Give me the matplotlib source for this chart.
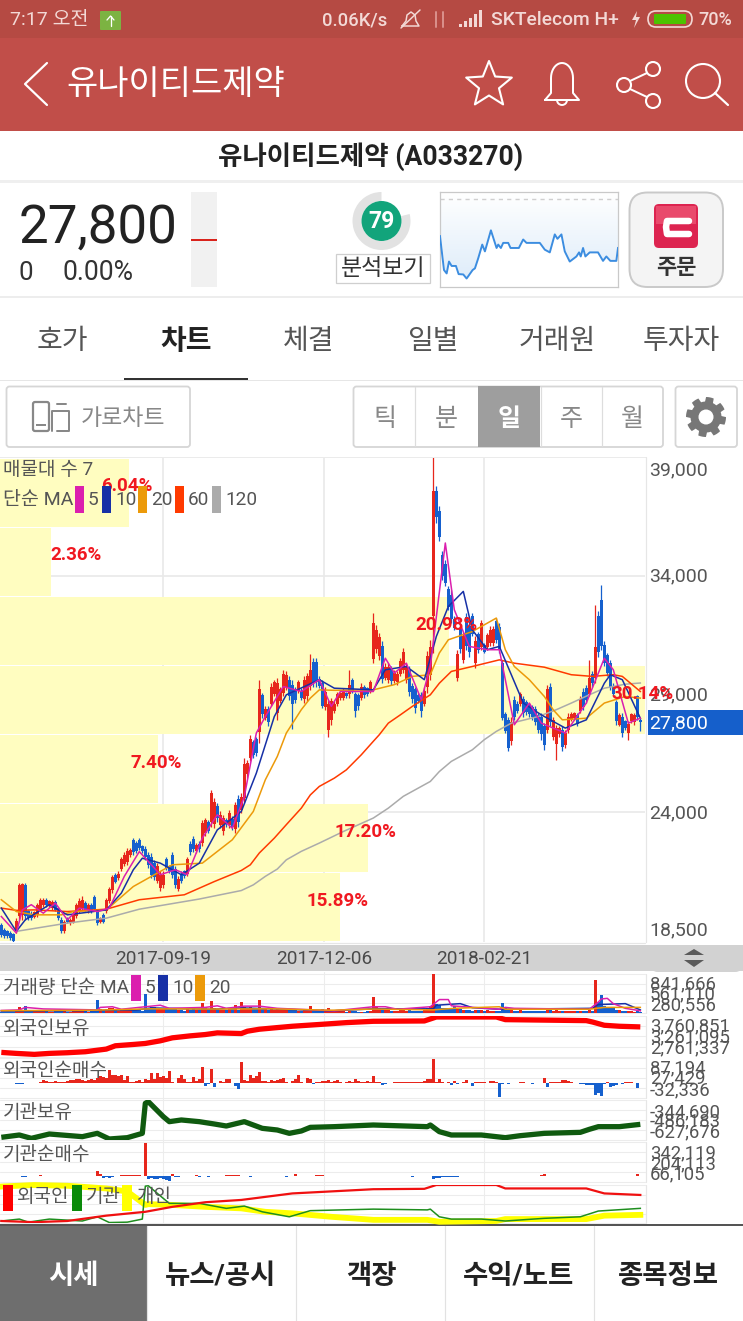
import numpy as np
import matplotlib
matplotlib.use("Agg")
import matplotlib.pyplot as plt
from matplotlib.patches import FancyBboxPatch, Rectangle, Circle, Wedge, Polygon

plt.rcParams['font.family'] = ['Roboto', 'Noto Sans CJK KR', 'DejaVu Sans']

W, H = 743, 1321

# ---------- candle data (won) ----------
opens = [19200,19000,18950,18900,18850,18950,19600,19650,20900,19800,
19700,19550,19650,19850,20050,20300,20050,19950,20200,19950,
19450,18950,19500,19300,19350,19600,19800,19950,20150,19800,
20050,20400,19800,19350,19650,19800,20250,20700,21350,21200,
21600,21800,21900,22200,22800,22700,22800,22550,22450,22200,
22100,21850,21100,20800,20900,22000,21700,22200,21600,20750,
21400,21500,21400,22650,22850,22350,22650,22700,23100,23600,
23600,23500,24250,23450,23200,23650,23450,23700,23300,24550,
24100,24600,25600,26300,26950,27100,27400,28950,28000,28350,
28600,29000,28200,28700,29050,29300,29600,29400,29200,29150,
29150,28800,28900,29350,30350,30350,29650,29450,28450,27500,
27900,28300,28600,28850,28850,29050,29000,29600,29000,28950,
28850,29300,29250,29150,30500,30900,30600,31050,29700,29600,
30050,29550,29500,29850,30000,29600,30000,29350,29200,28950,
28950,28600,29300,29800,32300,37600,36750,34900,34500,33450,
33200,32200,29700,31750,30450,32250,31900,32300,30300,31550,
31000,31100,31000,31150,31150,32100,31850,30300,28150,27900,
27000,28750,28600,28600,28800,28650,28550,28450,28350,28100,
28050,27650,27500,29300,27200,26900,27300,27500,26850,27500,
27900,28000,28100,28300,29100,29250,29000,29850,29700,32300,
33000,31100,30650,30300,29350,28650,27700,28050,27850,27350,
27850,27800,28900,27900]
closes = [18800,18750,18750,18650,18550,19400,20900,20950,19600,19500,
19500,19750,20050,20300,20300,20050,20250,20200,19850,19500,
18950,19350,19350,19450,19700,20050,20250,20300,19850,20050,
19800,19900,19300,19500,19350,20300,20750,21250,21050,21400,
22000,22200,22350,22400,22300,22350,22500,22350,22100,21750,
21350,21250,21700,21350,21350,21650,21500,21350,20900,21150,
21100,21300,22000,22300,22450,22600,22450,23550,23650,23200,
24800,24450,23750,23900,23750,23500,23950,23350,24300,23600,
24650,26050,26100,27100,26400,26500,29200,28150,28350,27800,
29300,29500,29450,29200,29850,29800,28900,28600,28750,29500,
28850,29600,29750,30000,29500,29500,29350,28500,29100,28600,
28700,28600,29000,29050,29150,28900,29400,29150,28300,28500,
29300,28950,29000,29500,32000,31700,31400,29650,30150,30150,
29550,29900,29850,30400,30800,30150,29100,28800,28400,28700,
28300,29150,30600,31000,37600,36500,35650,34000,33700,32700,
32200,31800,30700,30900,31450,31050,30800,31550,31250,30850,
32000,30800,31500,31700,31750,31300,30900,28000,27450,26700,
27800,28050,28300,29000,28200,28250,28150,28050,27800,27500,
27300,26850,29200,27800,27900,27550,27550,26750,27350,28050,
28150,28200,27750,28800,28450,28750,29700,29450,31000,30800,
31050,30300,29900,29300,29000,27850,28100,27350,27550,27750,
28150,28100,28050,27800]
highs = [19300,19090,19020,18950,18880,19510,21000,21020,21000,19870,
19800,19800,20150,20360,20360,20360,20290,20290,20290,20000,
19580,19440,19580,19510,19800,20150,20360,20430,20220,20150,
20150,20500,19860,19580,19720,20360,20850,21350,21420,21490,
22120,22330,22480,22480,22900,22760,22900,22620,22550,22330,
22260,21980,21840,21490,21490,22120,21770,22330,21700,21280,
21490,21560,22120,22760,22970,22690,22760,23680,23750,23680,
24950,24590,24380,24030,23890,23750,24100,23820,24450,24740,
24810,26290,26220,27280,27060,27200,29580,29040,28480,28480,
29470,29610,29680,29320,30030,29960,29750,29610,29320,29610,
29250,29750,29890,30710,30520,30520,29750,29610,29320,28760,
28830,28690,29110,29110,29250,29110,30030,29680,29110,29040,
29470,29400,29320,29610,32430,31930,31580,31230,30310,30310,
30170,30030,29960,30520,30950,30310,30170,29470,29320,29040,
29110,29320,30810,31300,39070,37800,36950,35040,34690,33560,
33420,32290,30880,31870,31650,32430,32080,32430,31440,31650,
32150,31160,31580,31870,31870,32220,32000,30450,28260,28050,
28050,28900,28690,29110,28900,28760,28620,28550,28480,28190,
28190,27770,29390,29460,28050,27700,27630,27630,27490,28190,
28260,28260,28190,28900,29250,29400,30450,29960,32780,32500,
33630,31230,30740,30450,29470,28760,28190,28190,27910,27840,
28190,28190,28970,27980]
lows = [18730,18660,18660,18590,18480,18880,19440,19440,19440,19440,
19440,19510,19580,19800,20000,20000,20000,19860,19800,19440,
18880,18880,19300,19230,19300,19510,19720,19860,19800,19720,
19720,19800,19230,19300,19300,19720,20150,20570,21000,21140,
21490,21700,21770,22120,22200,22270,22400,22270,21980,21630,
21200,21140,21000,20640,20780,21560,21420,21200,20780,20640,
21000,21200,21280,22200,22330,22270,22330,22550,22970,23110,
23390,23320,23600,23320,23040,23390,23320,23250,23110,23390,
23960,24380,25440,26150,26290,26360,26920,27980,27910,27630,
28480,28900,27910,28620,28900,29180,28760,27520,28620,29040,
28760,28620,28690,29180,29320,29320,29250,28410,28340,27180,
27700,28200,28480,28760,28760,28830,28830,29040,28050,28340,
28760,28830,28900,29040,30310,30740,30450,29460,29610,29460,
29390,29470,29400,29750,29890,29470,28900,28620,28190,28620,
28050,28480,29040,29610,30740,36240,35470,33840,33560,32570,
32000,31720,29540,30740,30310,30880,30590,31440,30100,30740,
30880,30740,30880,31020,31020,31160,30740,27910,27350,26570,
26850,27910,28190,28480,28050,28120,28050,27910,27700,27350,
27060,26640,27350,27630,27060,26220,27200,26570,26710,27350,
27840,27910,27630,28190,28340,28620,28900,29320,29470,30590,
30880,30170,29750,29180,28900,27700,27630,27200,27490,27060,
27770,27700,27910,27420]

# ---------- moving averages, read at the turning points of each line ----------
ma5_i = [0,5,7,10,14,18,22,26,32,36,41,46,53,58,62,67,72,77,81,85,88,94,100,106,110,113,124,128,131,135,140,143,148,151,156,162,166,171,176,180,188,195,201,204,209,213]
ma5_v = [19580,18880,19860,20080,19720,20150,19440,19935,19790,19935,21280,22330,21350,21560,21350,22900,23890,23320,24660,27350,28050,29320,29110,29610,28480,29110,29110,30520,29890,30310,28760,30170,35400,32570,31020,30880,30880,27700,28620,27770,27350,28620,30520,30030,27770,27980]
ma10_i = [0,5,8,16,22,35,40,44,47,53,60,66,72,80,85,91,95,106,111,124,128,135,141,145,149,154,157,162,166,174,180,188,195,201,203,207,213]
ma10_v = [19935,18950,19440,20080,19650,19860,20570,21560,22050,21840,21350,21840,23250,24030,25650,28050,28970,29610,29250,29180,30030,30170,29610,31440,32710,33350,31720,30880,31020,28620,28120,27560,27910,29460,29820,29610,27980]
ma20_i = [0,5,11,20,24,35,44,52,57,67,77,84,88,92,95,100,103,106,111,124,131,137,143,146,149,157,165,168,171,176,181,184,187,195,201,208,213]
ma20_v = [20290,19790,19650,19650,19790,19860,20850,21420,21770,21840,22830,24030,25370,26360,27350,28340,28830,29180,29160,29180,29400,29750,29820,30740,31300,31650,32220,30880,30170,29610,28900,28330,27910,27980,28620,28900,28830]
ma60_i = [0,5,11,22,35,46,61,71,80,83,86,91,95,100,103,106,111,115,120,124,126,129,133,137,143,146,150,157,166,171,181,190,197,204,207,213]
ma60_v = [19935,19840,19860,19790,19890,20290,20500,21060,21530,21770,22270,22900,23470,24170,24730,25090,25440,25790,26430,27000,27280,27770,28120,28480,28970,29460,29960,30170,30450,30310,30140,29820,29750,29820,29750,29110]
ma120_i = [5,22,35,46,66,80,84,88,92,95,100,106,114,124,129,134,138,143,146,150,154,157,161,165,170,179,185,190,196,201,208,213]
ma120_v = [18950,19300,19510,19890,20320,20680,20920,21280,21590,21980,22340,22690,23180,23750,24170,24670,24950,25300,25720,26150,26430,26640,27070,27420,27770,28050,28340,28620,28970,29250,29420,29470]

# ---------- volume profile ----------
profile_pct = [6.04, 2.36, 20.98, 30.14, 7.40, 17.20, 15.89]

# ---------- volume (thousand shares) ----------
volume = [30,25,20,20,30,50,125,60,150,70,
40,35,50,45,35,40,30,30,45,50,
60,45,30,30,35,45,50,40,35,30,
35,55,270,80,40,90,100,110,60,50,
80,70,80,60,70,60,55,50,400,90,
120,120,90,80,90,95,80,110,85,70,
60,50,90,70,100,55,60,220,110,70,
250,110,80,60,65,70,80,90,170,60,
235,130,100,120,90,80,290,100,80,70,
90,75,85,60,95,70,60,90,55,50,
40,60,55,150,65,60,45,90,60,100,
70,40,35,40,35,30,50,35,45,30,
30,30,35,40,340,130,100,90,60,60,
50,45,40,60,80,50,55,45,50,45,
40,55,100,150,841,200,170,110,110,100,
100,160,90,85,70,60,70,50,70,60,
60,45,55,50,50,40,45,220,120,80,
60,50,45,55,40,40,35,35,40,45,
50,40,75,55,50,65,40,50,45,40,
40,40,35,35,45,45,55,50,720,235,
380,150,130,120,100,55,70,50,40,35,
35,30,45,30]
vma5_i = [0,6,8,14,32,33,37,40,48,53,56,68,72,75,81,86,92,111,124,128,132,143,146,149,150,166,168,171,196,199,200,202,204,208,213]
vma5_v = [55,67,121,88,67,121,135,81,135,168,101,121,155,101,148,148,101,47,135,135,81,135,290,290,155,81,121,101,81,236,303,316,202,101,47]
vma10_i = [0,30,35,45,50,56,70,80,90,110,124,144,145,153,157,166,197,199,208,213]
vma10_v = [40,50,60,65,110,100,80,110,90,45,90,90,168,202,115,81,101,182,202,67]
vma20_i = [0,30,50,70,90,110,124,144,151,166,168,196,201,213]
vma20_v = [50,60,90,85,90,60,85,67,101,135,81,81,121,121]

# ---------- foreign holding ----------
fh_i = [0,5,11,16,22,28,35,38,44,48,53,57,63,68,72,80,82,86,92,97,107,115,124,141,145,165,168,195,197,201,206,213]
fh_v = [2761400,2734100,2706900,2734100,2752300,2779600,2852300,2943100,2979500,3006700,3079400,3161200,3215700,3252000,3297500,3279300,3342900,3397400,3442800,3479200,3533700,3579100,3615500,3624600,3733600,3733600,3660900,3633600,3597300,3506400,3479200,3461000]

# ---------- foreign net buying (thousand) ----------
foreign_net = [-2,-2,-1,-1,-3,-4,-6,-4,-3,-2,
-2,-1,-3,4,9,7,3,2,5,3,
4,3,5,8,10,14,12,9,6,8,
14,10,18,24,22,18,46,28,30,26,
30,10,24,4,2,6,8,3,12,10,
34,14,36,20,24,18,44,3,0,16,
30,14,2,3,20,5,12,59,-14,-6,
50,-15,-3,7,4,14,12,-2,-14,-23,
77,8,5,30,18,24,38,5,6,4,
8,6,10,12,16,4,-3,6,14,28,
2,-2,18,12,-6,3,2,6,5,8,
4,6,8,3,-1,2,5,2,14,5,
3,4,6,2,26,
1,1,-7,-5,-2,-1,1,2,3,3,
1,1,2,2,3,3,5,14,12,87,
2,12,3,-2,2,-8,5,-6,-3,2,
8,-2,-14,2,3,1,2,0,5,6,
4,-54,-5,-3,-5,-2,-3,-2,3,1,
0,-3,-4,-2,-3,-3,16,-15,1,3,
1,2,8,9,7,3,-2,-3,-5,-6,
-8,-9,-10,-45,-38,-48,-4,3,-16,-12,
-10,-3,-4,2,1,3,-2,-18,-1]

# ---------- institution holding ----------
ih_i = [0,6,10,16,27,32,36,42,47,48,49,54,56,60,66,71,75,81,84,87,92,96,100,103,111,124,142,143,146,150,160,168,173,181,193,196,199,206,213]
ih_v = [-615000,-597400,-622700,-589800,-610000,-584800,-627700,-617600,-584800,-357300,-344700,-458400,-496300,-483500,-496300,-514000,-529200,-496300,-521600,-546900,-559500,-584800,-567000,-539300,-534200,-521600,-534200,-521600,-572100,-597400,-597400,-617600,-602450,-584800,-577200,-554400,-534200,-534200,-516500]

# ---------- institution net buying (thousand) ----------
inst_net = [2,-3,2,4,-4,3,-5,-8,-6,-3,
-2,4,3,5,4,3,-3,-4,-4,3,
-3,-4,-2,0,-3,0,-3,0,-2,-4,
0,-3,55,20,-25,-15,-20,-6,-3,0,
5,8,12,9,14,8,5,0,342,-30,
-25,-35,-30,-20,-35,-40,-48,22,-8,-6,
-4,3,-3,-5,4,5,-6,3,-4,-6,
-3,-4,-5,4,3,5,6,8,7,5,
3,-5,-4,-6,-3,0,0,-4,-3,0,
-3,0,-5,-4,-5,-6,3,4,18,-3,
0,0,0,2,0,5,8,6,3,0,
0,2,0,0,-3,0,-2,0,0,-3,
0,0,-2,0,-2,
-3,-3,0,-3,-3,0,0,-3,-3,0,
0,0,-6,0,0,-4,0,-3,0,-30,
-25,-20,-15,-10,-12,-10,-8,-6,-5,4,
4,-3,-2,-3,-4,0,0,-3,-3,0,
-3,-4,-2,-3,3,2,-5,-3,3,-4,
-4,4,3,-3,-2,10,22,-2,-3,0,
0,-4,-5,0,0,0,0,0,2,3,
3,2,3,0,2,3,4,-3,-2,-3,
2,3,-2,0,0,-3,0,16,-3]

# ---------- ownership comparison ----------
own_red_i = [0,11,22,35,48,57,68,80,97,124,141,145,165,168,195,201,213]
own_red_v = [6,3,6,20,30,43,55,61,78,89,90,100,100,91,91,78,74]
own_green_i = [0,6,9,16,27,32,36,42,47,48,49,54,56,66,75,81,87,96,103,124,142,143,146,150,160,168,181,193,199,213]
own_green_v = [6,11,3,11,6,17,2,3,11,97,98,65,52,52,39,45,30,17,33,37,35,37,17,11,11,6,13,17,32,39]
own_yellow_i = [0,11,22,35,42,48,49,57,68,80,88,97,110,124,142,146,165,168,195,201,213]
own_yellow_v = [96,100,98,91,83,48,50,48,43,39,30,26,17,9,9,4,6,11,11,20,22]

# ---------- sparkline ----------
spark_x = [360,372,380,387,395,408,416,430,440,458,465,475,487,495,513,530,535,543,550,565,572,597,610,620,660,675,690,705,713,725,735,750,770,778,783,790,797,810,835,850,860,872,890,895]
spark_y = [150,50,40,75,62,62,38,37,25,50,55,85,125,105,167,115,125,115,130,130,115,115,140,130,130,110,102,155,142,155,105,75,90,102,90,115,90,102,102,77,90,77,77,115]

date_idx = [54, 107.5, 161]
date_labels = ['2017-09-19', '2017-12-06', '2018-02-21']
tab_labels = ['호가', '차트', '체결', '일별', '거래원', '투자자']
tab_x = [62, 186, 309, 433, 557, 681]
period_labels = ['틱', '분', '일', '주', '월']
period_x = [385, 446, 509, 571, 632]
nav_labels = ['시세', '뉴스/공시', '객장', '수익/노트', '종목정보']
nav_x = [73, 221, 371, 519, 668]

C_UP, C_DOWN = '#E7261C', '#1560CE'
C_M5, C_M10, C_M20, C_M60, C_M120 = '#DB1FAE', '#1730A6', '#EC9A0A', '#FF3A00', '#ABABAB'
GRID = '#E9E9E9'
TXT = '#555555'

fig = plt.figure(figsize=(W/100, H/100), dpi=100, facecolor='white')

def pxax(x0, y0, x1, y1, z=1):
    a = fig.add_axes([x0/W, 1-y1/H, (x1-x0)/W, (y1-y0)/H], zorder=z)
    a.patch.set_visible(False)
    for s in a.spines.values():
        s.set_visible(False)
    a.set_xticks([]); a.set_yticks([])
    return a

ax0 = pxax(0, 0, W, H, 0)
ax0.set_xlim(0, W); ax0.set_ylim(H, 0)
top = pxax(0, 0, W, H, 10)
top.set_xlim(0, W); top.set_ylim(H, 0)

def T(a, x, y, s, px, color=TXT, ha='left', weight='normal', va='center'):
    hangul = any('\uac00' <= ch <= '\ud7a3' for ch in s)
    dy = px*(0.12 if hangul else 0.06)
    return a.text(x, y+dy, s, fontsize=px*0.72, color=color, ha=ha, va=va, fontweight=weight)

def rbox(a, x0, y0, x1, y1, r, fc, ec='none', lw=1, z=1):
    p = FancyBboxPatch((x0, y0), x1-x0, y1-y0, boxstyle=f"round,pad=0,rounding_size={r}",
                       fc=fc, ec=ec, lw=lw, zorder=z)
    a.add_patch(p)

def R(a, x0, y0, x1, y1, fc, z=1):
    a.add_patch(Rectangle((x0, y0), x1-x0, y1-y0, fc=fc, ec='none', zorder=z))

def L(a, xs, ys, c, px=2, z=2, **k):
    a.plot(xs, ys, color=c, lw=px*0.72, zorder=z, solid_capstyle='round', solid_joinstyle='round', **k)

# ---------- status and header ----------
R(ax0, 0, 0, W, 38, '#B54A43')
R(ax0, 0, 38, W, 131, '#C14E49')
SB = '#F3D9D6'
T(ax0, 10, 18, '7:17 오전', 19.5, SB)
rbox(ax0, 100, 11, 121, 30, 1, '#7CB342')
L(ax0, [110.5, 110.5], [16, 26], 'white', 1.3, 3)
L(ax0, [107, 110.5, 114], [20, 16, 20], 'white', 1.3, 3)
T(ax0, 322, 19, '0.06K/s', 18.5, SB, weight='medium')
T(ax0, 491, 19, 'SKTelecom H+', 19.3, SB, weight='medium')
T(ax0, 698, 19, '70%', 18, SB, weight='medium')
# muted bell
L(ax0, [402, 406, 407, 411, 415, 416, 419, 402], [26, 21, 15, 12, 15, 21, 26, 26], SB, 1.5, 3)
L(ax0, [401, 420], [28, 10], SB, 1.5, 3)
# data arrows, signal
L(ax0, [436, 436], [12, 27], '#D98F8A', 2, 3)
L(ax0, [443, 443], [12, 27], '#D98F8A', 2, 3)
for k, h in enumerate([3, 6, 9, 13, 17]):
    R(ax0, 459+k*5, 27-h, 462+k*5, 27, SB, 3)
ax0.add_patch(Polygon([(637, 11), (632, 20), (636, 20), (634, 28), (640, 17), (636, 17)], fc=SB, ec='none', zorder=3))
rbox(ax0, 648, 11, 692, 27, 8, 'none', SB, 1.2, 3)
rbox(ax0, 654, 14, 686, 24, 1, '#4CC300', 'none', 1, 3)
# back arrow, title
L(ax0, [47, 25, 47], [63, 84, 105], 'white', 2.2, 3)
T(ax0, 66, 81, '유나이티드제약', 34, 'white')
# star
sx, sy = 489, 85
ang = np.deg2rad(np.arange(0, 360, 36) - 90)
rad = np.where(np.arange(10) % 2 == 0, 24, 10.5)
ax0.add_patch(Polygon(np.c_[sx+rad*np.cos(ang), sy+rad*np.sin(ang)], fc='none', ec='white', lw=1.5, zorder=3, joinstyle='round'))
# bell
bt = np.linspace(np.pi, 2*np.pi, 20)
bx = np.r_[545, 551, 562+11*np.cos(bt), 573, 579, 545]
by = np.r_[100, 93, 78+15*np.sin(bt), 93, 100, 100]
L(ax0, bx, by, 'white', 2, 3)
ax0.add_patch(Wedge((562, 100), 5, 0, 180, fc='none', ec='white', lw=1.4, zorder=3))
# share
for cx, cy in [(653, 69), (624, 85), (653, 101)]:
    ax0.add_patch(Circle((cx, cy), 7, fc='none', ec='white', lw=1.5, zorder=3))
L(ax0, [647, 630], [73, 81], 'white', 2, 3)
L(ax0, [647, 630], [97, 89], 'white', 2, 3)
# search
ax0.add_patch(Circle((703, 81), 17, fc='none', ec='white', lw=1.5, zorder=3))
L(ax0, [715, 728], [93, 105], 'white', 2.2, 3)

# ---------- stock title and price ----------
T(ax0, 371, 153, '유나이티드제약 (A033270)', 26.5, '#222222', ha='center', weight='bold')
R(ax0, 0, 180, W, 183, '#EFEFEF')
R(ax0, 0, 296, W, 298, '#EDEDED')
T(ax0, 19, 225, '27,800', 53, '#222222')
T(ax0, 19, 271, '0', 26, '#333333')
T(ax0, 63, 271, '0.00%', 26.5, '#333333')
R(ax0, 191, 192, 217, 287, '#F1F1F1')
R(ax0, 191, 239, 217, 240.5, '#D9231C', 2)
ax0.add_patch(Wedge((381.5, 221), 29, -14, 270, width=9, fc='#E2E2E2', ec='none', zorder=2))
ax0.add_patch(Circle((381.5, 221), 20, fc='#12A47B', ec='none', zorder=3))
T(ax0, 381.5, 220, '79', 23, 'white', ha='center', weight='bold')
ax0.add_patch(Rectangle((335.5, 253.5), 94, 29, fc='white', ec='#CFCFCF', lw=0.9, zorder=2))
T(ax0, 383, 266, '분석보기', 23, '#333333', ha='center').set_zorder(3)

# sparkline
sp = pxax(440, 192, 618, 287, 2)
sp.set_xlim(360, 895); sp.set_ylim(0, 280)
grad = np.linspace(0, 1, 64).reshape(-1, 1)
cm = matplotlib.colors.LinearSegmentedColormap.from_list('g', ['#DCEBF9', '#FFFFFF'])
sp.imshow(grad, extent=[360, 895, 0, 280], aspect='auto', cmap=cm, origin='lower', zorder=0)
sp.fill_between(spark_x, 0, spark_y, color='white', zorder=1)
sp.plot(spark_x, spark_y, color='#3C8DE0', lw=1.4, zorder=3)
sp.axhline(260, color='#CFCFCF', lw=1, ls=(0, (3, 3)), zorder=2)
for s in sp.spines.values():
    s.set_visible(True); s.set_color('#C9C9C9'); s.set_linewidth(0.9)

# order button
rbox(ax0, 629.5, 192.5, 723, 287, 18, '#F4F4F4', '#C9C9C9', 1.4)
rbox(ax0, 654, 204, 698, 248, 5, '#DD2450', 'none', 1, 2)
R(ax0, 656, 206, 696, 224, '#E94A6C', 2)
L(ax0, [689, 667, 666, 667, 689], [221, 221, 227, 234, 234], 'white', 6.5, 3)
T(ax0, 676, 265, '주문', 22, '#333333', ha='center', weight='bold')

# ---------- tabs ----------
for x, s in zip(tab_x, tab_labels):
    b = s == '차트'
    T(ax0, x, 338, s, 28, '#222222' if b else '#555555', ha='center', weight='bold' if b else 'normal')
R(ax0, 124, 378, 248, 380, '#333333', 2)
R(ax0, 0, 380, W, 381, '#E6E6E6')

# toolbar
rbox(ax0, 6.5, 386.5, 190, 447, 3, 'white', '#D6D6D6', 1.3)
rbox(ax0, 33, 402, 49, 431, 2, 'none', '#888888', 1.6, 2)
R(ax0, 36, 424, 46, 426, '#888888', 3)
L(ax0, [52, 52, 69, 69, 57], [431, 411, 411, 431, 431], '#888888', 2, 3)
L(ax0, [57, 66], [404, 404], '#888888', 2, 3)
T(ax0, 123, 416, '가로차트', 23, '#888888', ha='center')
rbox(ax0, 353.5, 386.5, 663, 447, 3, 'white', '#D6D6D6', 1.3)
R(ax0, 478, 386, 540, 447, '#9E9E9E', 2)
for xx in [415, 602]:
    L(ax0, [xx, xx], [387, 446], '#DDDDDD', 1.2, 2)
L(ax0, [540.5, 540.5], [387, 446], '#DDDDDD', 1.2, 2)
for x, s in zip(period_x, period_labels):
    b = s == '일'
    T(ax0, x, 416, s, 25, 'white' if b else '#888888', ha='center', weight='bold' if b else 'normal').set_zorder(4)
rbox(ax0, 675.5, 386.5, 737, 447, 3, 'white', '#D6D6D6', 1.3)
gt = np.linspace(0, 2*np.pi, 97)
gr = 20 - 4.5*(np.cos(8*gt) < -0.1) + 0
ax0.add_patch(Polygon(np.c_[706+gr*np.cos(gt+0.2), 417+gr*np.sin(gt+0.2)], fc='#777777', ec='none', zorder=3))
ax0.add_patch(Circle((706, 417), 7.5, fc='white', ec='none', zorder=4))

# ---------- grid layer under the profile ----------
xlim = (-0.44, 214.56)
gax = pxax(0, 458, 645, 942, 0.5)
gax.set_xlim(*xlim); gax.set_ylim(18500, 39000)
for v in [34000, 24000]:
    gax.axhline(v, color=GRID, lw=1.2)
for v in date_idx:
    gax.axvline(v, color=GRID, lw=1.2)

# ---------- volume profile layer ----------
prof = pxax(0, 458, 645, 942, 1)
bands = np.arange(len(profile_pct))[::-1]
prof.barh(bands, profile_pct, height=0.985, color='#FFFDC0', align='center')
prof.set_xlim(0, 645/21.4); prof.set_ylim(-0.5, 6.5)

# ---------- price panel ----------
ma = pxax(0, 458, 645, 942, 2)
ma.set_xlim(*xlim); ma.set_ylim(18500, 39000)
idx = np.arange(len(opens))
o, c, hi, lo = map(np.array, (opens, closes, highs, lows))
up = c >= o
cols = np.where(up, C_UP, C_DOWN)
ma.vlines(idx, lo, hi, colors=cols, lw=0.9, zorder=2)
ma.bar(idx, np.abs(c-o), bottom=np.minimum(o, c), width=0.8, color=cols, zorder=3)
ma.plot(ma120_i, ma120_v, color=C_M120, lw=1.1, zorder=4)
ma.plot(ma60_i, ma60_v, color=C_M60, lw=1.1, zorder=4)
ma.plot(ma20_i, ma20_v, color=C_M20, lw=1.1, zorder=5)
ma.plot(ma10_i, ma10_v, color=C_M10, lw=1.1, zorder=6)
ma.plot(ma5_i, ma5_v, color=C_M5, lw=1.1, zorder=6)
R(ax0, 0, 456.5, 646, 458, '#EBEBEB')
L(ax0, [645.5, 645.5], [457, 942], '#E6E6E6', 1.2)
L(ax0, [0, 645], [942.5, 942.5], '#E6E6E6', 1.2)

# profile percent labels
plab = pxax(0, 458, 645, 942, 3)
plab.set_xlim(0, 645/21.4); plab.set_ylim(-0.5, 6.5)
for b, p in zip(bands, profile_pct):
    if p < 3:
        plab.text(p, b+0.09, f'{p:.2f}%', color='#F01820', fontsize=13.5, fontweight='bold', ha='left', va='center')
    else:
        plab.text(p-0.12, b+0.09, f'{p:.2f}%', color='#F01820', fontsize=13.5, fontweight='bold', ha='center', va='center')

# price labels
for y, s in zip([469, 575, 694, 812, 929], ['39,000', '34,000', '29,000', '24,000', '18,500']):
    T(ax0, 649, y, s, 19.5, TXT)
R(top, 648, 710, 743, 735, '#155FCB', 1)
T(top, 649, 722, '27,800', 19.5, 'white').set_zorder(3)

T(top, 3, 468, '매물대 수 7', 19, TXT)
T(top, 3, 498, '단순 MA', 19.5, TXT)
for x0, col, s in zip([75, 102, 138, 175, 212], [C_M5, C_M10, C_M20, C_M60, C_M120], ['5', '10', '20', '60', '120']):
    R(top, x0, 486, x0+9, 513, col)
    T(top, x0+13, 499, s, 19, TXT)

# ---------- date strip ----------
R(ax0, 0, 945, W, 971, '#D2D2D2')
rbox(ax0, 650, 945, 743, 972, 8, '#D2D2D2')
for v, s in zip(date_idx, date_labels):
    T(ax0, 1.33+3*v, 958, s, 19, '#4A4A4A', ha='center').set_zorder(3)
ax0.add_patch(Polygon([(684, 955), (704, 955), (694, 949)], fc='#5A5A5A', ec='none', zorder=3))
ax0.add_patch(Polygon([(684, 960), (704, 960), (694, 967)], fc='#5A5A5A', ec='none', zorder=3))

# ---------- lower panels ----------
def panel(y0, y1, ylim, ngrid=4):
    a = pxax(0, y0, 645, y1, 2)
    a.set_xlim(*xlim); a.set_ylim(*ylim)
    for f in np.linspace(0, 1, ngrid+1):
        yy = y0 + (y1-y0)*f
        L(ax0, [0, 645], [yy, yy], '#ECECEC', 1.1, 1)
    L(ax0, [645.5, 645.5], [y0, y1], '#E6E6E6', 1.2)
    return a

for xx in [1.33+3*v for v in date_idx]:
    L(ax0, [xx, xx], [972, 1223], '#EDEDED', 1.1, 1)

vol_ax = panel(974, 1013, (0, 841.666))
vol_ax.bar(idx, volume, width=0.8, color=cols, zorder=2)
vol_ax.plot(vma20_i, vma20_v, color=C_M20, lw=1.1, zorder=5)
vol_ax.plot(vma10_i, vma10_v, color=C_M10, lw=1.1, zorder=4)
vol_ax.plot(vma5_i, vma5_v, color=C_M5, lw=1.1, zorder=4)

fh_ax = panel(1016, 1056.7, (2643273, 3760851))
fh_ax.plot(fh_i, fh_v, color='#FF0000', lw=3.8, solid_capstyle='butt')

fn_ax = panel(1058.3, 1097.7, (-55.3, 89.6))
fn = np.array(foreign_net)
fn_ax.bar(idx, fn, width=0.8, color=np.where(fn >= 0, C_UP, C_DOWN))

ih_ax = panel(1100, 1140, (-635295, -332055))
ih_ax.plot(ih_i, ih_v, color='#0F5A0F', lw=3.8, solid_capstyle='butt')

in_ax = panel(1142.3, 1182.3, (-66.3, 352.6))
ina = np.array(inst_net)
in_ax.bar(idx, ina, width=0.8, color=np.where(ina >= 0, C_UP, C_DOWN))

own_ax = panel(1185, 1223.3, (0, 100))
own_ax.plot(own_yellow_i, own_yellow_v, color='#FFFF00', lw=4.2, clip_on=False, zorder=2)
own_ax.plot(own_green_i, own_green_v, color='#1E8E1E', lw=1.1, zorder=3)
own_ax.plot(own_red_i, own_red_v, color='#F01010', lw=1.6, zorder=4)

T(top, 3, 986, '거래량 단순 MA', 19, TXT)
for x0, col, s in zip([131, 158, 195], [C_M5, C_M10, C_M20], ['5', '10', '20']):
    R(top, x0, 974.5, x0+9.5, 1001, col)
    T(top, x0+14, 987, s, 19, TXT)
for y, s in zip([1027, 1069, 1111, 1153], ['외국인보유', '외국인순매수', '기관보유', '기관순매수']):
    T(top, 3, y, s, 19, TXT)
for x0, col, s in zip([3, 72, 122], ['#FF0000', '#0A8A0A', '#FFFF00'], ['외국인', '기관', '개인']):
    R(top, x0, 1185, x0+10, 1211, col)
    T(top, x0+14, 1195, s, 19, TXT)

for ys, labs in [([983, 993, 1004], ['841,666', '561,110', '280,556']),
                 ([1025, 1036, 1047], ['3,760,851', '3,261,095', '2,761,337']),
                 ([1067, 1077, 1089], ['87,194', '27,429', '-32,336']),
                 ([1111, 1120, 1131], ['-344,690', '-486,183', '-627,676']),
                 ([1152, 1163, 1173], ['342,119', '204,113', '66,105'])]:
    for y, s in zip(ys, labs):
        T(ax0, 650, y, s, 18.5, TXT).set_zorder(3)

# ---------- bottom navigation ----------
R(ax0, 0, 1224, W, 1226, '#555555', 2)
R(ax0, 0, 1226, 147, H, '#6E6E6E', 2)
for xx in [147, 296, 445, 594]:
    L(ax0, [xx, xx], [1226, H], '#E2E2E2', 1.2, 2)
for x, s in zip(nav_x, nav_labels):
    T(ax0, x, 1273, s, 27.5, 'white' if s == '시세' else '#222222', ha='center', weight='bold').set_zorder(3)

fig.savefig('out.png', dpi=100)
